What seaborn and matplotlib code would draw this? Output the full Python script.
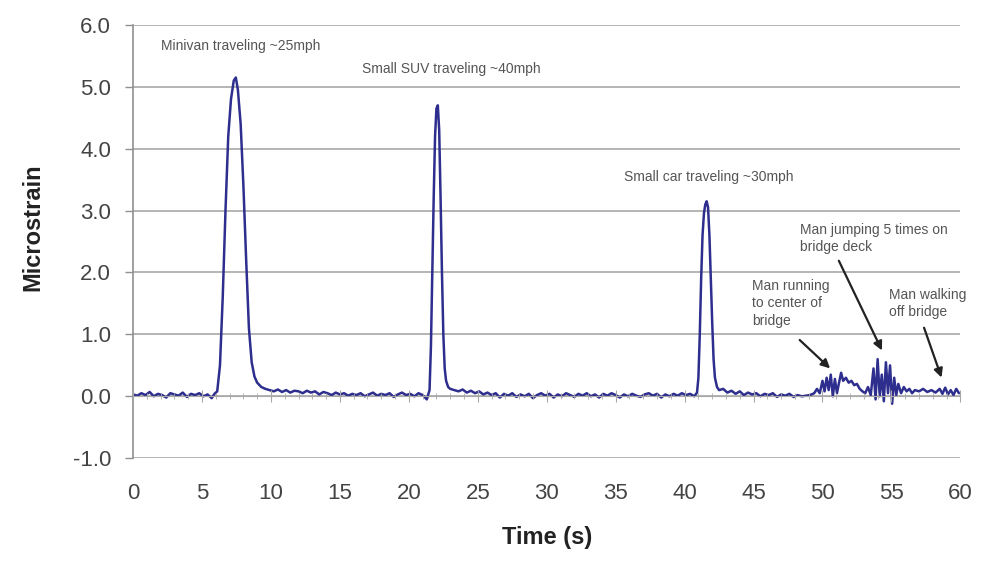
import matplotlib.pyplot as plt
import seaborn as sns
import pandas as pd
from matplotlib.ticker import MultipleLocator

# strain record (time in s, microstrain)
time_s = [0.0, 0.3, 0.6, 0.9, 1.2, 1.5, 1.8, 2.1, 2.4, 2.7, 3.0, 3.3, 3.6, 3.9, 4.2, 4.5, 4.8, 5.1, 5.4, 5.7, 5.9,
          6.1, 6.3, 6.5, 6.7, 6.9, 7.1, 7.3, 7.45, 7.6, 7.8, 8.0, 8.2, 8.4, 8.6, 8.8, 9.0, 9.3, 9.6, 9.9,
          10.2, 10.5, 10.8, 11.1, 11.4, 11.7, 12.0, 12.3, 12.6, 12.9, 13.2, 13.5, 13.8, 14.1, 14.4, 14.7,
          15.0, 15.3, 15.6, 15.9, 16.2, 16.5, 16.8, 17.1, 17.4, 17.7, 18.0, 18.3, 18.6, 18.9, 19.2, 19.5,
          19.8, 20.1, 20.4, 20.7, 21.0, 21.3, 21.5, 21.6, 21.7, 21.8, 21.9, 22.0, 22.1, 22.2, 22.3, 22.4,
          22.5, 22.6, 22.7, 22.85, 23.0, 23.3, 23.6, 23.9, 24.2, 24.5, 24.8, 25.1, 25.4, 25.7, 26.0, 26.3,
          26.6, 26.9, 27.2, 27.5, 27.8, 28.1, 28.4, 28.7, 29.0, 29.3, 29.6, 29.9, 30.2, 30.5, 30.8, 31.1,
          31.4, 31.7, 32.0, 32.3, 32.6, 32.9, 33.2, 33.5, 33.8, 34.1, 34.4, 34.7, 35.0, 35.3, 35.6, 35.9,
          36.2, 36.5, 36.8, 37.1, 37.4, 37.7, 38.0, 38.3, 38.6, 38.9, 39.2, 39.5, 39.8, 40.1, 40.4, 40.7,
          40.9, 41.0, 41.1, 41.2, 41.3, 41.4, 41.5, 41.6, 41.7, 41.8, 41.9, 42.0, 42.1, 42.2, 42.35, 42.5,
          42.8, 43.1, 43.4, 43.7, 44.0, 44.3, 44.6, 44.9, 45.2, 45.5, 45.8, 46.1, 46.4, 46.7, 47.0, 47.3,
          47.6, 47.9, 48.2, 48.5, 48.8, 49.1, 49.4, 49.6, 49.8, 50.0, 50.15, 50.3, 50.45, 50.6, 50.75, 50.9,
          51.05, 51.2, 51.35, 51.5, 51.7, 51.9, 52.1, 52.3, 52.5, 52.7, 52.9, 53.1, 53.3, 53.5, 53.7, 53.85,
          54.0, 54.15, 54.3, 54.45, 54.6, 54.75, 54.9, 55.05, 55.2, 55.35, 55.5, 55.7, 55.9, 56.1, 56.3, 56.5,
          56.7, 57.0, 57.3, 57.6, 57.9, 58.2, 58.5, 58.7, 58.9, 59.1, 59.3, 59.5, 59.7, 59.9]
strain = [0.03, 0.01, 0.05, 0.02, 0.07, 0.00, 0.04, 0.02, -0.02, 0.05, 0.03, 0.01, 0.06, -0.01, 0.04, 0.02, 0.05, 0.00, 0.03, -0.03, 0.04,
          0.08, 0.5, 1.6, 3.0, 4.2, 4.8, 5.1, 5.15, 4.95, 4.4, 3.4, 2.2, 1.1, 0.55, 0.32, 0.22, 0.15, 0.12, 0.10,
          0.08, 0.11, 0.07, 0.10, 0.06, 0.09, 0.08, 0.05, 0.09, 0.06, 0.08, 0.03, 0.07, 0.05, 0.02, 0.06,
          0.03, 0.05, 0.01, 0.04, 0.02, 0.05, 0.00, 0.03, 0.06, 0.01, 0.04, 0.02, 0.05, -0.01, 0.03, 0.06,
          0.02, 0.04, 0.00, 0.05, 0.02, -0.05, 0.1, 0.8, 2.0, 3.2, 4.2, 4.65, 4.7, 4.3, 3.2, 2.0,
          1.0, 0.45, 0.25, 0.15, 0.12, 0.10, 0.08, 0.11, 0.06, 0.09, 0.05, 0.08, 0.03, 0.06, 0.02, 0.05,
          -0.02, 0.04, 0.01, 0.05, -0.01, 0.03, 0.00, 0.04, -0.03, 0.02, 0.05, 0.01, 0.04, -0.02, 0.03, 0.00,
          0.05, 0.02, -0.01, 0.04, 0.01, 0.05, 0.00, 0.03, -0.02, 0.04, 0.01, 0.05, 0.02, -0.02, 0.03, 0.00,
          0.04, 0.01, -0.01, 0.03, 0.05, 0.01, 0.04, -0.02, 0.03, 0.00, 0.04, 0.01, 0.05, 0.02, 0.04, 0.00,
          0.06, 0.3, 1.0, 1.9, 2.6, 2.95, 3.1, 3.15, 3.05, 2.6, 1.9, 1.2, 0.6, 0.3, 0.15, 0.10,
          0.12, 0.06, 0.09, 0.04, 0.08, 0.02, 0.06, 0.03, 0.05, 0.00, 0.04, 0.02, 0.05, -0.01, 0.03, 0.01,
          0.04, -0.01, 0.02, 0.00, 0.01, 0.02, 0.05, 0.12, 0.05, 0.25, 0.08, 0.3, 0.1, 0.35, 0.0, 0.28,
          0.05, 0.22, 0.38, 0.25, 0.3, 0.22, 0.25, 0.18, 0.2, 0.12, 0.08, 0.05, 0.15, 0.02, 0.45, -0.05,
          0.6, 0.0, 0.35, -0.08, 0.55, 0.05, 0.5, -0.12, 0.3, 0.02, 0.2, 0.05, 0.15, 0.08, 0.12, 0.05,
          0.1, 0.08, 0.12, 0.07, 0.1, 0.06, 0.12, 0.04, 0.14, 0.03, 0.1, 0.02, 0.12, 0.05]

x_ticks = [0, 5, 10, 15, 20, 25, 30, 35, 40, 45, 50, 55, 60]
y_ticks = [-1.0, 0.0, 1.0, 2.0, 3.0, 4.0, 5.0, 6.0]

# vehicle labels (text, x, y)
vehicle_notes = [("Minivan traveling ~25mph", 2.0, 5.66),
                 ("Small SUV traveling ~40mph", 16.6, 5.29),
                 ("Small car traveling ~30mph", 35.6, 3.54)]
# pedestrian labels (text, text x, text y, arrow tail x, tail y, head x, head y)
people_notes = [("Man running\nto center of\nbridge", 44.9, 1.5, 48.2, 0.94, 50.7, 0.42),
                ("Man jumping 5 times on\nbridge deck", 48.4, 2.55, 51.1, 2.23, 54.4, 0.70),
                ("Man walking\noff bridge", 54.8, 1.5, 57.3, 1.15, 58.7, 0.26)]

df = pd.DataFrame({"Time (s)": time_s, "Microstrain": strain})

sns.set_style("white")
plt.rcParams['font.family'] = ['Liberation Sans', 'DejaVu Sans']

fig = plt.figure(figsize=(9.86, 5.65), dpi=100)
ax = fig.add_axes([0.135, 0.189, 0.839, 0.767])

sns.lineplot(data=df, x="Time (s)", y="Microstrain", ax=ax, color="#2e2e8e", linewidth=1.8, zorder=3)

ax.set_xlim(0, 60)
ax.set_ylim(-1.0, 6.0)
ax.set_yticks(y_ticks)
ax.set_yticklabels([f"{v:.1f}" for v in y_ticks])
ax.set_xticks(x_ticks)
ax.grid(axis="y", color="#a8a8a8", linewidth=1.2)
ax.grid(axis="x", visible=False)

for s in ["top", "right", "bottom"]:
    ax.spines[s].set_visible(False)
ax.spines["left"].set_color("#909090")
ax.spines["left"].set_linewidth(1.2)
ax.tick_params(axis="y", direction="out", length=6, width=1.0, color="#909090",
               labelsize=16, labelcolor="#444444", pad=10, left=True)
ax.tick_params(axis="x", length=0, labelsize=16, labelcolor="#444444", pad=18)

# the time axis itself crosses at zero, with small ticks every second
ax0 = ax.twiny()
ax0.set_xlim(0, 60)
for s in ["left", "right", "bottom"]:
    ax0.spines[s].set_visible(False)
ax0.spines["top"].set_position(("data", 0))
ax0.spines["top"].set_color("#a8a8a8")
ax0.xaxis.set_major_locator(MultipleLocator(5))
ax0.xaxis.set_minor_locator(MultipleLocator(1))
ax0.tick_params(axis="x", which="both", direction="inout", color="#a8a8a8", labeltop=False, top=True)
ax0.tick_params(axis="x", which="major", length=8)
ax0.tick_params(axis="x", which="minor", length=4)

ax.set_xlabel("Time (s)", fontsize=17, fontweight="bold", color="#222222", labelpad=16)
ax.set_ylabel("Microstrain", fontsize=17, fontweight="bold", color="#222222")
ax.yaxis.set_label_coords(-0.107, 0.533)

for txt, x, y in vehicle_notes:
    ax.text(x, y, txt, fontsize=10, color="#555555", va="center", ha="left", zorder=4)

for txt, tx, ty, ax_, ay, hx, hy in people_notes:
    ax.text(tx, ty, txt, fontsize=10, color="#555555", va="center", ha="left",
            linespacing=1.3, zorder=4)
    ax.annotate("", xy=(hx, hy), xytext=(ax_, ay),
                arrowprops=dict(arrowstyle="-|>", color="#222222", lw=1.6, mutation_scale=13),
                zorder=4)

fig.savefig("out.png", dpi=100)
